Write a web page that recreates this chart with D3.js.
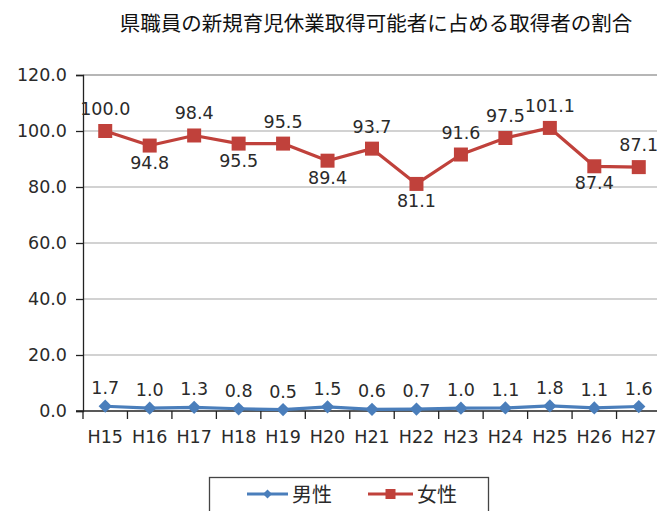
<!DOCTYPE html>
<html><head><meta charset="utf-8">
<script src="https://cdn.jsdelivr.net/npm/d3@7"></script>
<style>
html,body{margin:0;padding:0;background:#fff;overflow:hidden}
svg{display:block}
</style></head>
<body><svg id="c" width="657" height="511"></svg>
<script>
const title = "県職員の新規育児休業取得可能者に占める取得者の割合";
const categories = ["H15","H16","H17","H18","H19","H20","H21","H22","H23","H24","H25","H26","H27"];
const male = [1.7,1.0,1.3,0.8,0.5,1.5,0.6,0.7,1.0,1.1,1.8,1.1,1.6];
const female = [100.0,94.8,98.4,95.5,95.5,89.4,93.7,81.1,91.6,97.5,101.1,87.4,87.1];
const yTicks = [0,20,40,60,80,100,120];
const seriesNames = ["男性","女性"];
const femaleLabelSide = ["above","below","above","below","above","below","above","below","above","above","above","below","above"];

const svg = d3.select("#c");
const numFont = "'DejaVu Sans', sans-serif";
const cjkFont = "'Noto Sans CJK JP', sans-serif";
const blue = "#4a7ebb", red = "#c0413b";
const txt = "#2a2a2a";

const x = d3.scaleBand().domain(categories).range([83, 661]).padding(0);
const y = d3.scaleLinear().domain([0,120]).range([411, 75]);
const cx = c => x(c) + x.bandwidth()/2;

// title
svg.append("text").attr("x", 376).attr("y", 31).attr("text-anchor","middle")
  .attr("font-family", cjkFont).attr("font-size", 20.5).attr("fill","#111").text(title);

// gridlines
svg.append("g").selectAll("line").data(yTicks.filter(t=>t>0)).join("line")
  .attr("x1", 83).attr("x2", 657).attr("y1", d=>y(d)).attr("y2", d=>y(d))
  .attr("stroke", d=> d===120 ? "#6e6e6e" : "#a6a6a6").attr("stroke-width", 1.2);

// y axis
const yAxis = d3.axisLeft(y).tickValues(yTicks).tickSize(7).tickPadding(8).tickFormat(d3.format(".1f"));
const gy = svg.append("g").attr("transform","translate(83,0)").call(yAxis);
gy.select(".domain").attr("stroke","#222").attr("stroke-width",1.3);
gy.selectAll(".tick line").attr("stroke","#222").attr("stroke-width",1.3);
gy.selectAll(".tick text").attr("font-family", numFont).attr("font-size",17.5).attr("fill",txt).attr("dx", -1);

// x axis
const xAxis = d3.axisBottom(x).tickSize(0).tickPadding(20);
const gx = svg.append("g").attr("transform","translate(0,411)").call(xAxis);
gx.select(".domain").remove();
gx.append("line").attr("x1",76).attr("x2",657).attr("y1",0).attr("y2",0).attr("stroke","#222").attr("stroke-width",1.3);
gx.selectAll(".tick text").attr("font-family", numFont).attr("font-size",17.5).attr("fill",txt);
gx.append("g").selectAll("line").data(categories.concat(["end"])).join("line")
  .attr("x1",(d,i)=> x.range()[0] + i*x.bandwidth()).attr("x2",(d,i)=> x.range()[0] + i*x.bandwidth())
  .attr("y1",0).attr("y2",8).attr("stroke","#222").attr("stroke-width",1.3);

// female series
const line = d3.line().x((d,i)=>cx(categories[i])).y(d=>y(d));
svg.append("path").datum(female).attr("d", line).attr("fill","none")
  .attr("stroke", red).attr("stroke-width",3.2).attr("stroke-linejoin","round");
svg.append("g").selectAll("rect").data(female).join("rect")
  .attr("x",(d,i)=>cx(categories[i])-7).attr("y",d=>y(d)-7).attr("width",14).attr("height",14)
  .attr("fill", red);
svg.append("g").selectAll("text").data(female).join("text")
  .attr("x",(d,i)=>cx(categories[i]))
  .attr("y",(d,i)=> femaleLabelSide[i]==="above" ? y(d)-16 : y(d)+23)
  .attr("text-anchor","middle").attr("font-family", numFont).attr("font-size",17.5).attr("fill",txt)
  .text(d=>d.toFixed(1));

// male series
svg.append("path").datum(male).attr("d", line).attr("fill","none")
  .attr("stroke", blue).attr("stroke-width",3.2).attr("stroke-linejoin","round");
svg.append("g").selectAll("path").data(male).join("path")
  .attr("d", d3.symbol().type(d3.symbolSquare).size(88))
  .attr("transform",(d,i)=>`translate(${cx(categories[i])},${y(d)}) rotate(45)`)
  .attr("fill", blue);
svg.append("g").selectAll("text").data(male).join("text")
  .attr("x",(d,i)=>cx(categories[i]))
  .attr("y",d=>y(d)-12)
  .attr("text-anchor","middle").attr("font-family", numFont).attr("font-size",17.5).attr("fill",txt)
  .text(d=>d.toFixed(1));

// legend
const lg = svg.append("g");
lg.append("rect").attr("x",209.5).attr("y",477.5).attr("width",279).attr("height",50)
  .attr("fill","#fff").attr("stroke","#444").attr("stroke-width",1.3);
const items = [{name:seriesNames[0], color:blue, x0:247, x1:288, tx:292, shape:"diamond"},
               {name:seriesNames[1], color:red, x0:368, x1:413, tx:417, shape:"square"}];
items.forEach(it=>{
  lg.append("line").attr("x1",it.x0).attr("x2",it.x1).attr("y1",494).attr("y2",494)
    .attr("stroke",it.color).attr("stroke-width",3.2);
  const m = (it.x0+it.x1)/2;
  if(it.shape==="diamond"){
    lg.append("path").attr("d", d3.symbol().type(d3.symbolSquare).size(40)()).attr("transform",`translate(${m},494) rotate(45)`).attr("fill",it.color);
  } else {
    lg.append("rect").attr("x",m-5).attr("y",489).attr("width",10).attr("height",10).attr("fill",it.color);
  }
  lg.append("text").attr("x",it.tx).attr("y",501.5).attr("font-family",cjkFont).attr("font-size",20).attr("fill",txt).text(it.name);
});
</script></body></html>
